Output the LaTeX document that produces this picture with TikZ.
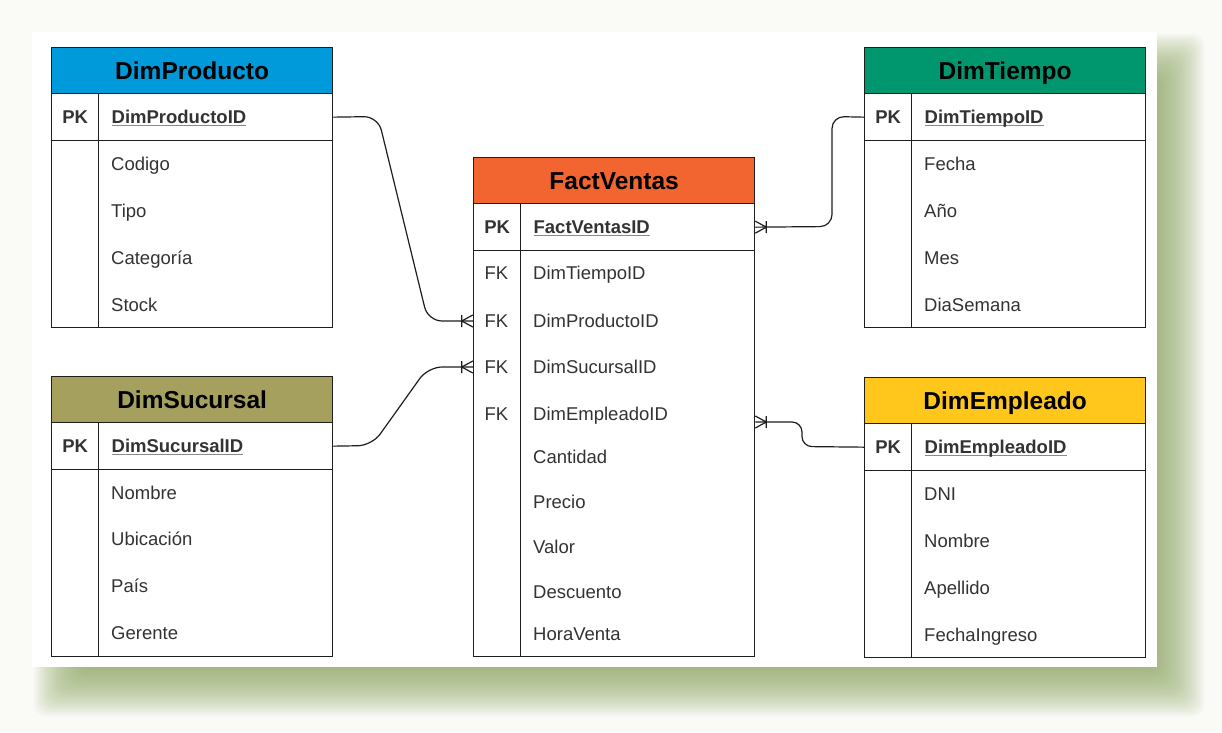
\documentclass[tikz,border=0pt]{standalone}
\usepackage{fontspec}
\setmainfont{Liberation Sans}
\usetikzlibrary{calc}
\definecolor{outerbg}{HTML}{FAFAF7}
\definecolor{shadowgreen}{HTML}{8FA862}
\definecolor{lc}{HTML}{1E1E1E}
\definecolor{txt}{HTML}{333333}
\definecolor{ulgray}{HTML}{8A8A8A}
\definecolor{cblue}{HTML}{0099DA}
\definecolor{cgreen}{HTML}{00966E}
\definecolor{corange}{HTML}{F26531}
\definecolor{colive}{HTML}{A6A05F}
\definecolor{cyellow}{HTML}{FFC61C}
\newcommand\pkul[1]{\setbox0\hbox{#1}\rlap{\textcolor{ulgray}{\rule[-2.6pt]{\wd0}{1.1pt}}}\box0}
\newcommand\ercrow[2]{%
  \draw[conn] ($(#1)+(-11*#2,0)$) -- ($(#1)+(0,-6)$)
              ($(#1)+(-11*#2,0)$) -- ($(#1)+(0,6)$)
              ($(#1)+(-11*#2,-6)$) -- ($(#1)+(-11*#2,6)$);}
\tikzset{
  tbl/.style={draw=lc, line width=1.3pt, inner sep=0pt},
  hdr/.style={tbl, anchor=north west, minimum width=281pt, minimum height=46pt,
    font=\fontsize{24.5}{28}\selectfont\bfseries, text=black, text height=17.5pt, text depth=0pt},
  keycell/.style={tbl, anchor=north west, minimum width=47pt, minimum height=47pt,
    font=\fontsize{18.5}{22}\selectfont\bfseries, text=txt, text height=13.2pt, text depth=0pt},
  pkfield/.style={tbl, anchor=north west, minimum width=234pt, minimum height=47pt,
    text width=208pt, align=left, font=\fontsize{18.5}{22}\selectfont\bfseries, text=txt,
    text height=13.2pt, text depth=0pt},
  keycol/.style={tbl, anchor=north west, minimum width=47pt},
  fieldcol/.style={tbl, anchor=north west, minimum width=234pt},
  fld/.style={anchor=west, inner sep=0pt, font=\fontsize{18.5}{22}\selectfont, text=txt,
    text height=13.2pt, text depth=0pt},
  fk/.style={inner sep=0pt, minimum width=47pt, font=\fontsize{18.5}{22}\selectfont, text=txt,
    text height=13.2pt, text depth=0pt},
  conn/.style={draw=lc, line width=1.2pt},
}
\begin{document}
\begin{tikzpicture}[x=1pt,y=-1pt]
\useasboundingbox (0,0) rectangle (1222,732);
\fill[outerbg] (0,0) rectangle (1222,732);
% shadow
\foreach \e in {-28,-26,...,28}{
  \fill[shadowgreen, opacity=0.05, rounded corners=12pt] (62-\e,62-\e) rectangle (1176+\e,688+\e);
}
\fill[white] (32,32) rectangle (1157,667);

% DimProducto
\node[hdr, fill=cblue] (ph) at (51,47) {DimProducto};
\node[keycell] (ppk) at (51,93) {PK};
\node[pkfield] (ppkf) at (98,93) {\pkul{DimProductoID}};
\node[keycol, minimum height=187pt] (pkc) at (51,140) {};
\node[fieldcol, minimum height=187pt] (pfc) at (98,140) {};
\node[fld] (p1) at (111,164) {Codigo};
\node[fld] (p2) at (111,211) {Tipo};
\node[fld] (p3) at (111,258) {Categoría};
\node[fld] (p4) at (111,305) {Stock};

% DimTiempo
\node[hdr, fill=cgreen] (th) at (864,47) {DimTiempo};
\node[keycell] (tpk) at (864,93) {PK};
\node[pkfield] (tpkf) at (911,93) {\pkul{DimTiempoID}};
\node[keycol, minimum height=187pt] (tkc) at (864,140) {};
\node[fieldcol, minimum height=187pt] (tfc) at (911,140) {};
\node[fld] (t1) at (924,164) {Fecha};
\node[fld] (t2) at (924,211) {Año};
\node[fld] (t3) at (924,258) {Mes};
\node[fld] (t4) at (924,305) {DiaSemana};

% FactVentas
\node[hdr, fill=corange] (fh) at (473,157) {FactVentas};
\node[keycell] (fpk) at (473,203) {PK};
\node[pkfield] (fpkf) at (520,203) {\pkul{FactVentasID}};
\node[keycol, minimum height=406pt] (fkc) at (473,250) {};
\node[fieldcol, minimum height=406pt] (ffc) at (520,250) {};
\node[fk] (fk1) at (496.5,273) {FK};
\node[fk] (fk2) at (496.5,321) {FK};
\node[fk] (fk3) at (496.5,367) {FK};
\node[fk] (fk4) at (496.5,414) {FK};
\node[fld] (f1) at (533,273) {DimTiempoID};
\node[fld] (f2) at (533,321) {DimProductoID};
\node[fld] (f3) at (533,367) {DimSucursalID};
\node[fld] (f4) at (533,414) {DimEmpleadoID};
\node[fld] (f5) at (533,457) {Cantidad};
\node[fld] (f6) at (533,502) {Precio};
\node[fld] (f7) at (533,547) {Valor};
\node[fld] (f8) at (533,592) {Descuento};
\node[fld] (f9) at (533,634) {HoraVenta};

% DimSucursal
\node[hdr, fill=colive] (sh) at (51,376) {DimSucursal};
\node[keycell] (spk) at (51,422) {PK};
\node[pkfield] (spkf) at (98,422) {\pkul{DimSucursalID}};
\node[keycol, minimum height=187pt] (skc) at (51,469) {};
\node[fieldcol, minimum height=187pt] (sfc) at (98,469) {};
\node[fld] (s1) at (111,493) {Nombre};
\node[fld] (s2) at (111,539) {Ubicación};
\node[fld] (s3) at (111,586) {País};
\node[fld] (s4) at (111,633) {Gerente};

% DimEmpleado
\node[hdr, fill=cyellow] (eh) at (864,377) {DimEmpleado};
\node[keycell] (epk) at (864,423) {PK};
\node[pkfield] (epkf) at (911,423) {\pkul{DimEmpleadoID}};
\node[keycol, minimum height=187pt] (ekc) at (864,470) {};
\node[fieldcol, minimum height=187pt] (efc) at (911,470) {};
\node[fld] (e1) at (924,494) {DNI};
\node[fld] (e2) at (924,541) {Nombre};
\node[fld] (e3) at (924,588) {Apellido};
\node[fld] (e4) at (924,635) {FechaIngreso};

% connectors
\coordinate (empin) at ($(ffc.east |- fk4.center)+(0,8)$);
\draw[conn, rounded corners=14pt] (ppkf.east) -- (378,116.5) -- (428,321) -- (fk2.west);
\draw[conn, rounded corners=14pt] (spkf.east) -- (372,445.5) -- (428,367) -- (fk3.west);
\draw[conn, rounded corners=12pt] (tpk.west) -- (832,116.5) -- (832,226.5) -- (fpkf.east);
\draw[conn, rounded corners=10pt] (epk.west) -- (802,446.5) -- (802,422) -- (empin);
\ercrow{fk2.west}{1}
\ercrow{fk3.west}{1}
\ercrow{fpkf.east}{-1}
\ercrow{empin}{-1}
\end{tikzpicture}
\end{document}
